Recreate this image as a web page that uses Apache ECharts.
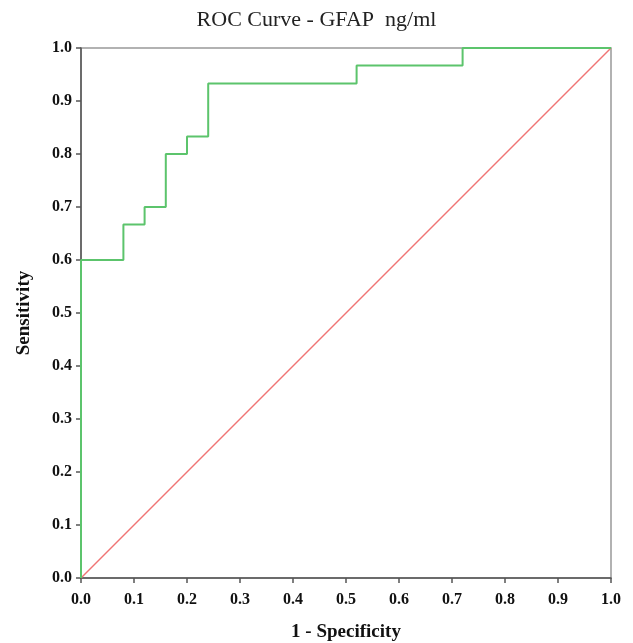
<!DOCTYPE html>
<html><head><meta charset="utf-8">
<script src="https://cdn.jsdelivr.net/npm/echarts@6/dist/echarts.min.js"></script>
<style>html,body{margin:0;padding:0;background:#fff}#c{width:633px;height:643px}</style>
</head><body><div id="c"></div>
<script>
const fpr = [0, 0, 0.08, 0.08, 0.12, 0.12, 0.16, 0.16, 0.20, 0.20, 0.24, 0.24, 0.52, 0.52, 0.72, 0.72, 1.0];
const tpr = [0, 0.6, 0.6, 0.667, 0.667, 0.7, 0.7, 0.8, 0.8, 0.833, 0.833, 0.933, 0.933, 0.967, 0.967, 1.0, 1.0];
const refX = [0, 1];
const refY = [0, 1];
const tickVals = [0, 0.1, 0.2, 0.3, 0.4, 0.5, 0.6, 0.7, 0.8, 0.9, 1.0];

const font = '"Liberation Serif", "DejaVu Serif", serif';
const chart = echarts.init(document.getElementById('c'));
const axisCommon = {
  type: 'value', min: 0, max: 1, interval: 0.1,
  axisLine: { show: true, lineStyle: { color: '#555', width: 1.5 } },
  axisTick: { show: true, length: 5, inside: false, lineStyle: { color: '#555', width: 1.5 } },
  splitLine: { show: false },
  axisLabel: { fontFamily: font, fontWeight: 'bold', fontSize: 16, color: '#111', formatter: v => v.toFixed(1) },
  nameTextStyle: { fontFamily: font, fontWeight: 'bold', fontSize: 19, color: '#111' },
  nameLocation: 'middle'
};
chart.setOption({
  animation: false,
  title: { text: 'ROC Curve - GFAP  ng/ml', left: 'center', top: 4,
    textStyle: { fontFamily: font, fontWeight: 'normal', fontSize: 22, color: '#222' } },
  grid: { left: 81, right: 22, top: 48, bottom: 65, show: true, borderColor: '#999', borderWidth: 1.5,
    containLabel: false, outerBoundsMode: 'none' },
  xAxis: Object.assign({}, axisCommon, { name: '1 - Specificity', nameGap: 45,
    axisLabel: Object.assign({}, axisCommon.axisLabel, { margin: 14 }) }),
  yAxis: Object.assign({}, axisCommon, { name: 'Sensitivity', nameGap: 47,
    axisLabel: Object.assign({}, axisCommon.axisLabel, { margin: 9 }) }),
  series: [
    { type: 'line', data: refX.map((x, i) => [x, refY[i]]), symbol: 'none',
      lineStyle: { color: '#f07474', width: 1.5 } },
    { type: 'line', data: fpr.map((x, i) => [x, tpr[i]]), symbol: 'none',
      lineStyle: { color: '#5cc46c', width: 2 } }
  ]
});
</script></body></html>
